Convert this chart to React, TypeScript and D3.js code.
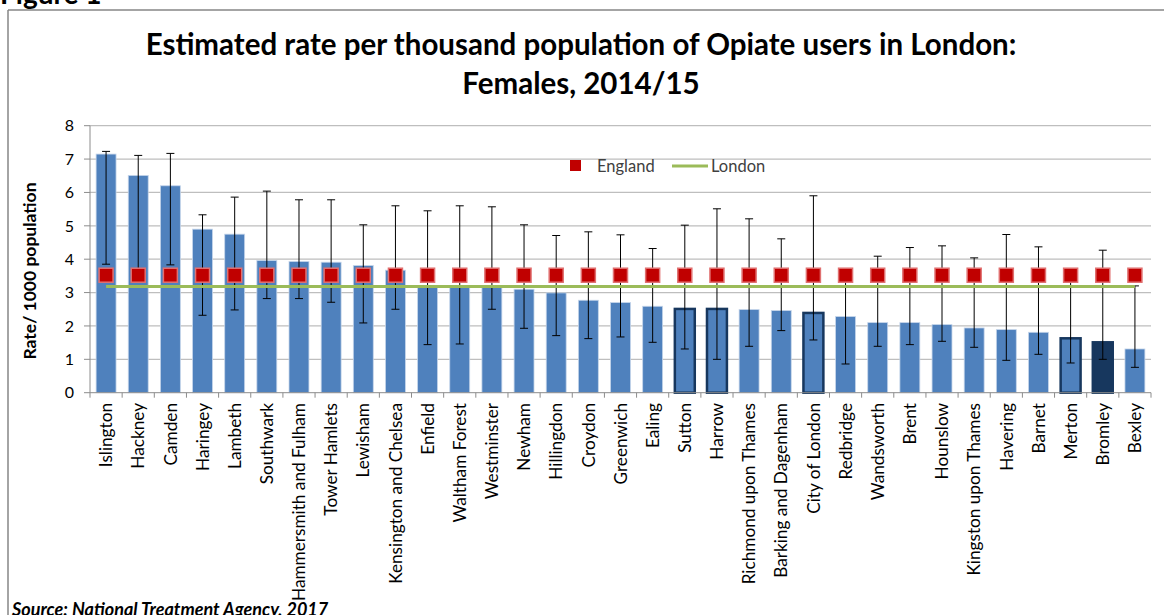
import React from "react";
import * as d3 from "d3";

const categories = [
  "Islington", "Hackney", "Camden", "Haringey", "Lambeth", "Southwark",
  "Hammersmith and Fulham", "Tower Hamlets", "Lewisham", "Kensington and Chelsea",
  "Enfield", "Waltham Forest", "Westminster", "Newham", "Hillingdon", "Croydon",
  "Greenwich", "Ealing", "Sutton", "Harrow", "Richmond upon Thames",
  "Barking and Dagenham", "City of London", "Redbridge", "Wandsworth", "Brent",
  "Hounslow", "Kingston upon Thames", "Havering", "Barnet", "Merton", "Bromley", "Bexley",
];
const rates = [
  7.15, 6.51, 6.2, 4.9, 4.75, 3.96, 3.93, 3.91, 3.81, 3.67, 3.2, 3.15, 3.15, 3.1,
  2.99, 2.77, 2.7, 2.59, 2.51, 2.51, 2.49, 2.46, 2.39, 2.28, 2.1, 2.1, 2.04, 1.94,
  1.89, 1.81, 1.63, 1.51, 1.31,
];
const lowerCI = [
  3.85, 3.55, 3.83, 2.32, 2.48, 2.82, 2.82, 2.71, 2.09, 2.5, 1.44, 1.46, 2.5, 1.93,
  1.71, 1.62, 1.67, 1.51, 1.31, 1.0, 1.39, 1.86, 1.58, 0.86, 1.39, 1.44, 1.54, 1.36,
  0.97, 1.15, 0.89, 1.0, 0.76,
];
const upperCI = [
  7.23, 7.11, 7.17, 5.33, 5.86, 6.04, 5.78, 5.78, 5.03, 5.6, 5.45, 5.6, 5.57, 5.03,
  4.71, 4.82, 4.73, 4.32, 5.02, 5.51, 5.21, 4.61, 5.9, 3.6, 4.09, 4.35, 4.4, 4.04,
  4.74, 4.37, 3.55, 4.27, 3.2,
];
const outlined = ["Sutton", "Harrow", "City of London", "Merton"];
const darkFilled = ["Bromley"];
const englandRate = 3.52;
const londonRate = 3.18;
const yTicks = [0, 1, 2, 3, 4, 5, 6, 7, 8];

const W = 1164;
const H = 615;
const plotLeft = 90;
const plotRight = 1151;
const plotTop = 125.7;
const plotBottom = 392.7;
const FONT = "Lato, 'Open Sans', sans-serif";

export default function App() {
  const x = d3
    .scaleBand<string>()
    .domain(categories)
    .range([plotLeft, plotRight])
    .paddingInner(0.38)
    .paddingOuter(0.19);
  const y = d3.scaleLinear().domain([0, 8]).range([plotBottom, plotTop]);
  const step = x.step();
  const bw = x.bandwidth();
  const cx = (c: string) => (x(c) as number) + bw / 2;
  const capW = 8;
  const sq = 14;

  const londonLine = d3.line<string>().x((c) => cx(c)).y(() => y(londonRate));

  return (
    <svg
      width={W}
      height={H}
      style={{ position: "absolute", left: 0, top: 0, background: "#fff" }}
      fontFamily={FONT}
    >
      <rect x={0} y={0} width={W} height={H} fill="#fff" />
      {/* Figure label (cut at top, as in the source page) */}
      <text x={0} y={4} fontSize={28} fontWeight="bold" fill="#000">Figure 1</text>
      {/* frame */}
      <line x1={8} y1={10} x2={W} y2={10} stroke="#868686" strokeWidth={1.5} />
      <line x1={8} y1={10} x2={8} y2={H} stroke="#868686" strokeWidth={1.5} />

      {/* title */}
      <text x={581} y={55} textAnchor="middle" fontSize={29.5} fontWeight="bold" fill="#000">
        Estimated rate per thousand population of Opiate users in London:
      </text>
      <text x={581} y={94} textAnchor="middle" fontSize={29.5} fontWeight="bold" fill="#000">
        Females, 2014/15
      </text>

      {/* gridlines */}
      {yTicks.map((t) => (
        <g key={t}>
          {t > 0 && (
            <line x1={plotLeft} x2={plotRight} y1={y(t)} y2={y(t)} stroke="#BEBEBE" strokeWidth={1.2} />
          )}
          <line x1={plotLeft - 6} x2={plotLeft} y1={y(t)} y2={y(t)} stroke="#8C8C8C" strokeWidth={1} />
          <text x={74} y={y(t)} dy="0.36em" textAnchor="end" fontSize={16} fill="#000">
            {t}
          </text>
        </g>
      ))}
      {/* y axis */}
      <line x1={plotLeft} x2={plotLeft} y1={plotTop} y2={plotBottom} stroke="#8C8C8C" strokeWidth={1} />
      <text
        transform={`translate(36,271) rotate(-90)`}
        textAnchor="middle"
        fontSize={17.5}
        fontWeight="bold"
        fill="#000"
      >
        Rate/ 1000 population
      </text>

      {/* bars */}
      {categories.map((c, i) => {
        const isOut = outlined.includes(c);
        const isDark = darkFilled.includes(c);
        return (
          <rect
            key={c}
            x={x(c)}
            y={y(rates[i])}
            width={bw}
            height={y(0) - y(rates[i])}
            fill={isDark ? "#17375E" : "#4F81BD"}
            stroke={isOut || isDark ? "#17375E" : "#C5D5EA"}
            strokeWidth={isOut || isDark ? 2.5 : 0.8}
          />
        );
      })}

      {/* x axis */}
      <line x1={plotLeft} x2={plotRight} y1={plotBottom} y2={plotBottom} stroke="#8C8C8C" strokeWidth={1} />
      {d3.range(categories.length + 1).map((i) => (
        <line
          key={i}
          x1={plotLeft + i * step}
          x2={plotLeft + i * step}
          y1={plotBottom}
          y2={plotBottom + 5}
          stroke="#8C8C8C"
          strokeWidth={1}
        />
      ))}
      {categories.map((c) => (
        <text
          key={c}
          transform={`translate(${cx(c)},403) rotate(-90)`}
          textAnchor="end"
          dy="0.36em"
          fontSize={17.2}
          fill="#000"
        >
          {c}
        </text>
      ))}

      {/* error bars */}
      {categories.map((c, i) => (
        <g key={c} stroke="#000" strokeWidth={1}>
          <line x1={cx(c)} x2={cx(c)} y1={y(upperCI[i])} y2={y(lowerCI[i])} />
          <line x1={cx(c) - capW / 2} x2={cx(c) + capW / 2} y1={y(upperCI[i])} y2={y(upperCI[i])} />
          <line x1={cx(c) - capW / 2} x2={cx(c) + capW / 2} y1={y(lowerCI[i])} y2={y(lowerCI[i])} />
        </g>
      ))}

      {/* London line */}
      <path d={londonLine(categories) || ""} fill="none" stroke="#9BBB59" strokeWidth={3} />

      {/* England markers */}
      {categories.map((c) => (
        <rect
          key={c}
          x={cx(c) - sq / 2}
          y={y(englandRate) - sq / 2}
          width={sq}
          height={sq}
          fill="#C00000"
          stroke="#E07070"
          strokeWidth={1.5}
        />
      ))}

      {/* legend */}
      <rect x={570} y={160} width={11} height={11} fill="#C00000" />
      <text x={597} y={166} dy="0.36em" fontSize={16.5} fill="#404040">England</text>
      <line x1={672} x2={708} y1={166} y2={166} stroke="#9BBB59" strokeWidth={3} />
      <text x={711} y={166} dy="0.36em" fontSize={16.5} fill="#404040">London</text>

      {/* source */}
      <text x={12} y={616} fontSize={18} fontWeight="bold" fontStyle="italic" fill="#000">
        Source: National Treatment Agency, 2017
      </text>
    </svg>
  );
}
